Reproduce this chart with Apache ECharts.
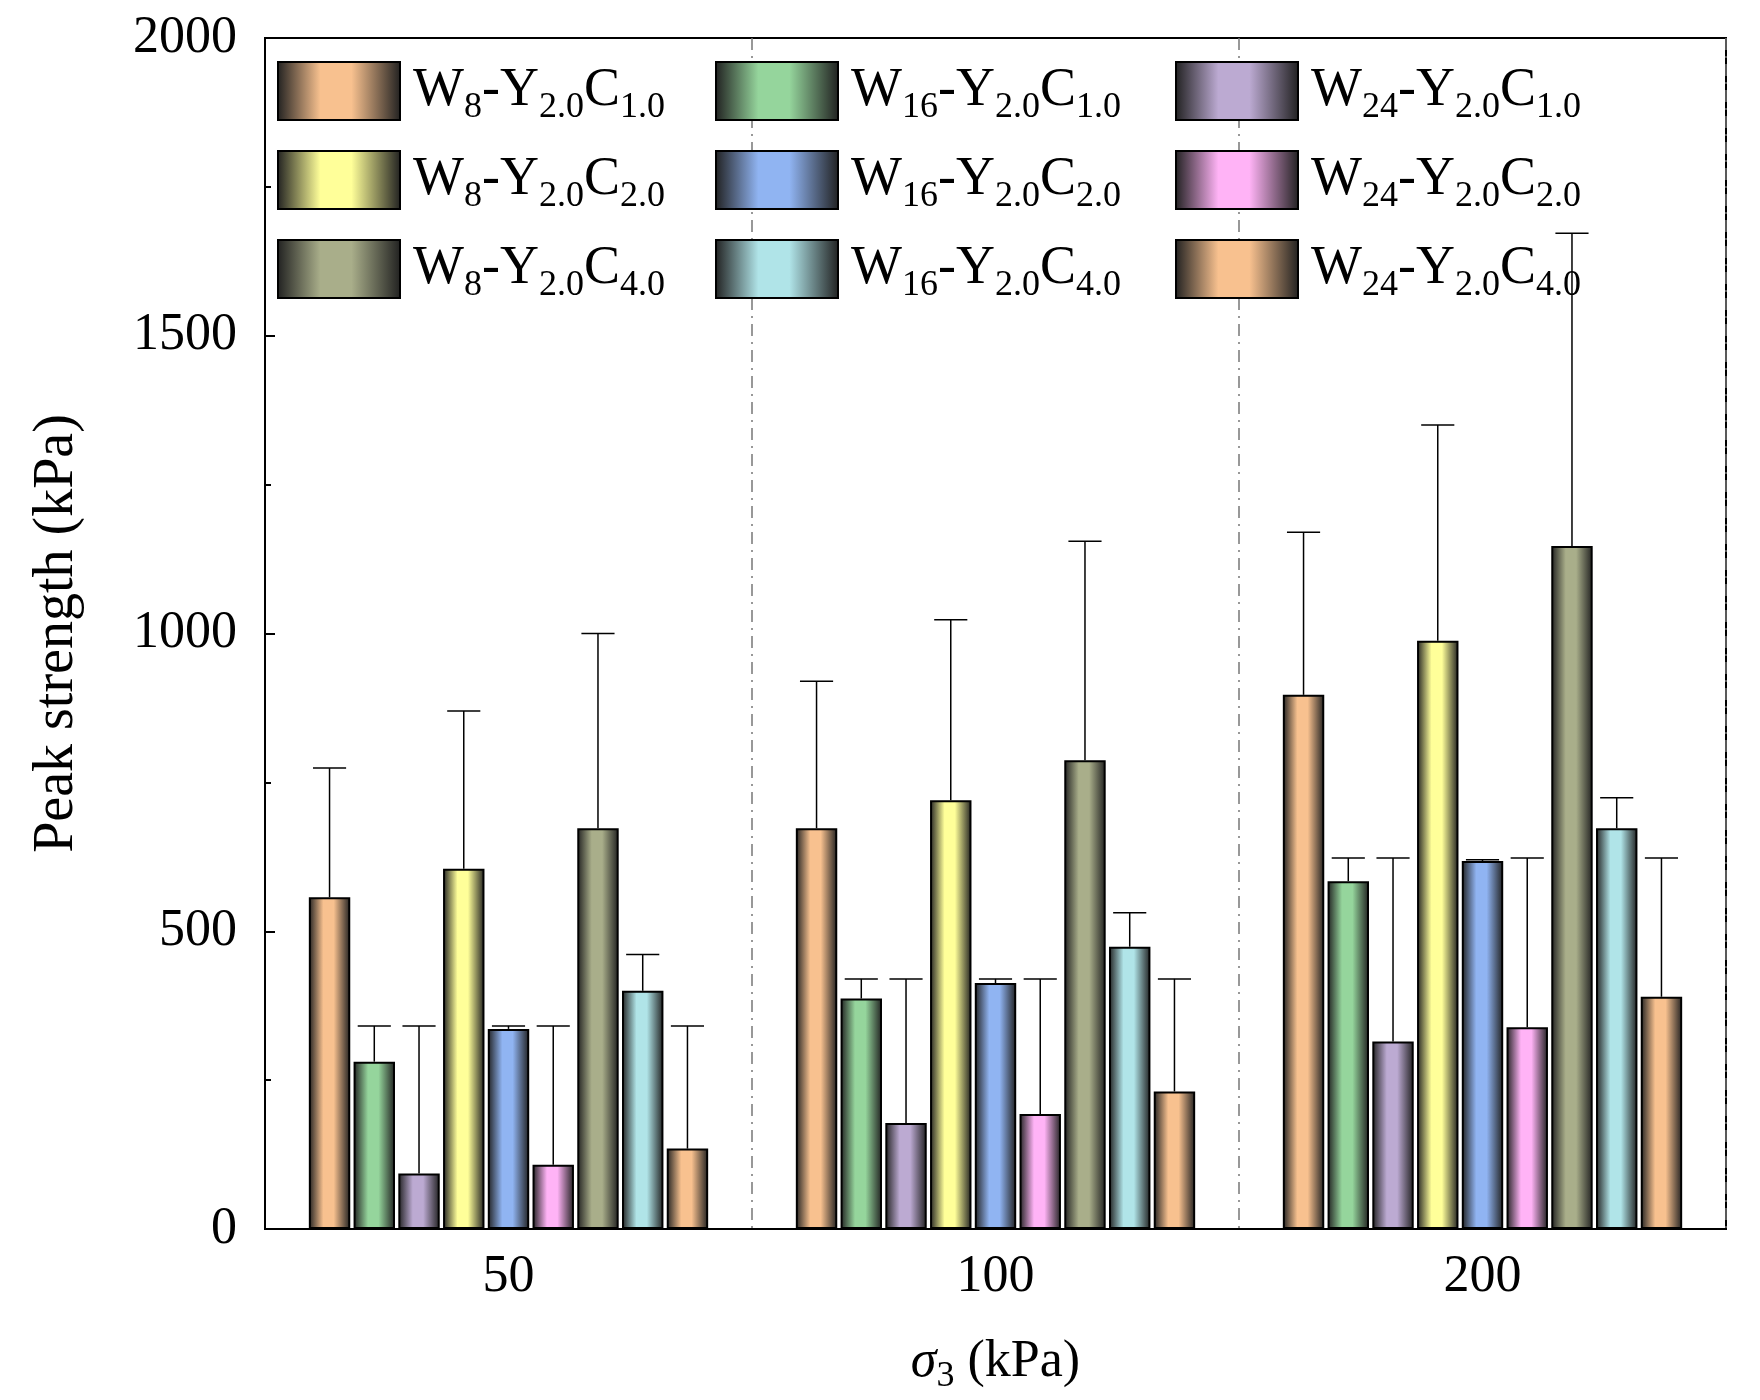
<!DOCTYPE html>
<html><head><meta charset="utf-8">
<script src="https://cdn.jsdelivr.net/npm/echarts@6/dist/echarts.min.js"></script>
<style>html,body{margin:0;background:#fff}#c{width:1760px;height:1400px}</style>
</head><body><div id="c"></div>
<script>
const categories = ['50','100','200'];
const seriesNames = ['W8C1','W16C1','W24C1','W8C2','W16C2','W24C2','W8C4','W16C4','W24C4'];
const seriesLabels = [
 'W{s|8}-Y{s|2.0}C{s|1.0}','W{s|16}-Y{s|2.0}C{s|1.0}','W{s|24}-Y{s|2.0}C{s|1.0}',
 'W{s|8}-Y{s|2.0}C{s|2.0}','W{s|16}-Y{s|2.0}C{s|2.0}','W{s|24}-Y{s|2.0}C{s|2.0}',
 'W{s|8}-Y{s|2.0}C{s|4.0}','W{s|16}-Y{s|2.0}C{s|4.0}','W{s|24}-Y{s|2.0}C{s|4.0}'];
const values = [
 [557,673,897],[281,387,584],[93,178,315],
 [605,720,988],[336,413,618],[108,193,339],
 [673,787,1147],[400,474,673],[135,231,390]];
const errTops = [
 [774,920,1170],[341,420,623],[341,420,623],
 [870,1023,1350],[341,420,620],[341,420,623],
 [1000,1155,1672],[461,531,724],[341,420,623]];
const colors = ['#F8C18F','#95D59C','#BCAAD2','#FFFF99','#90B4F2','#FFB3F6','#A9AE8A','#B0E4E8','#F8C18F'];

const CATGAP = 0.18, BARGAP = 0.08, N = 9;
function grad(c){return new echarts.graphic.LinearGradient(0,0,1,0,[
 {offset:0,color:'#202020'},{offset:0.35,color:c},{offset:0.6,color:c},{offset:1,color:'#202020'}]);}

const series = [];
seriesNames.forEach((n,i)=>{
 series.push({name:n,type:'bar',data:values[i],barCategoryGap:(CATGAP*100)+'%',barGap:(BARGAP*100)+'%',
  itemStyle:{color:grad(colors[i]),borderColor:'#000',borderWidth:2}});
});
seriesNames.forEach((n,i)=>{
 series.push({type:'custom',silent:true,z:1,
  data:categories.map((c,k)=>[k,values[i][k],errTops[i][k]]),
  renderItem:function(params,api){
   const band = api.size([1,0])[0];
   const w = band*(1-CATGAP)/(N+(N-1)*BARGAP);
   const c = api.coord([api.value(0),0]);
   const x = c[0]-band*(1-CATGAP)/2 + i*w*(1+BARGAP) + w/2;
   const y0 = api.coord([api.value(0),api.value(1)])[1];
   const y1 = api.coord([api.value(0),api.value(2)])[1];
   const st={stroke:'#000',lineWidth:1.5};
   return {type:'group',children:[
    {type:'line',shape:{x1:x,y1:y0,x2:x,y2:y1},style:st},
    {type:'line',shape:{x1:x-w*0.4,y1:y1,x2:x+w*0.4,y2:y1},style:st}]};
  }});
});

const rich = {s:{fontSize:36,fontFamily:'Liberation Serif',padding:[34,0,0,0]}};
const legendCols = [[0,3,6],[1,4,7],[2,5,8]];
const legendLeft = [272,710,1170];
const legends = legendCols.map((col,j)=>({
 orient:'vertical',left:legendLeft[j],top:56,itemWidth:122,itemHeight:58,itemGap:24,
 icon:'rect',
 data:col.map(i=>seriesNames[i]),
 formatter:function(n){return seriesLabels[seriesNames.indexOf(n)];},
 textStyle:{fontSize:54,fontFamily:'Liberation Serif',color:'#000',rich:rich,padding:[0,0,0,8]},
 itemStyle:{borderColor:'#000',borderWidth:2}
}));

const chart = echarts.init(document.getElementById('c'));
chart.setOption({
 animation:false,
 legend:legends,
 grid:{left:265,right:34,top:38,bottom:171,show:true,borderColor:'#000',borderWidth:2,backgroundColor:'transparent'},
 xAxis:{type:'category',data:categories,
  axisLine:{lineStyle:{color:'#000',width:2}},axisTick:{show:false},
  axisLabel:{fontSize:52,fontFamily:'Liberation Serif',color:'#000',margin:22},
  splitLine:{show:true,lineStyle:{color:'#777',width:1.5,type:[12,6,2,6]}},
  name:'{i|σ}{s|3} (kPa)',nameLocation:'middle',nameGap:100,
  nameTextStyle:{fontSize:52,fontFamily:'Liberation Serif',color:'#000',
   rich:{i:{fontSize:52,fontStyle:'italic',fontFamily:'Liberation Serif'},s:{fontSize:36,fontFamily:'Liberation Serif',padding:[30,0,0,0]}}}},
 yAxis:{type:'value',min:0,max:2000,interval:500,
  axisLine:{show:true,lineStyle:{color:'#000',width:2}},
  axisTick:{show:true,inside:true,length:10,lineStyle:{color:'#000',width:2}},
  minorTick:{show:true,splitNumber:2,length:6,lineStyle:{color:'#000',width:2}},
  splitLine:{show:false},
  axisLabel:{fontSize:52,fontFamily:'Liberation Serif',color:'#000',margin:28,formatter:v=>String(v)},
  name:'Peak strength (kPa)',nameLocation:'middle',nameGap:180,
  nameTextStyle:{fontSize:56,fontFamily:'Liberation Serif',color:'#000'}},
 series:series
});
</script></body></html>
